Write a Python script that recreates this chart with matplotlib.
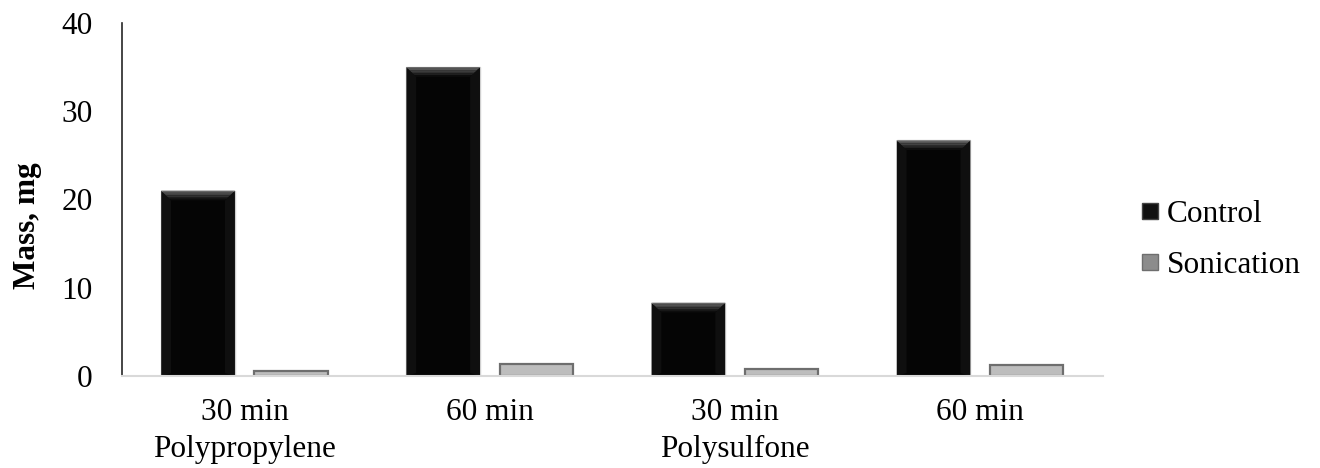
import matplotlib
matplotlib.use('Agg')
import numpy as np
import matplotlib.pyplot as plt
from matplotlib.patches import Polygon
from matplotlib.lines import Line2D

# data
categories = ['30 min\nPolypropylene', '60 min', '30 min\nPolysulfone', '60 min']
control = [21.0, 35.0, 8.3, 26.7]
sonication = [0.6, 1.4, 0.8, 1.3]
series_names = ['Control', 'Sonication']

plt.rcParams['font.family'] = ['Liberation Serif', 'DejaVu Serif']
fs = 22.5

fig = plt.figure(figsize=(13.2, 4.68), dpi=100)
ax = fig.add_axes([0.0924, 0.1966, 0.743, 0.7544])

x = np.arange(len(categories))
w = 0.30
off = 0.19

bars_c = ax.bar(x - off, control, w, color='#050505', edgecolor='#cfcfcf', linewidth=1.0, zorder=2)
bars_s = ax.bar(x + off, sonication, w, color='#bdbdbd', edgecolor='#6e6e6e', linewidth=1.6, zorder=2)


# bevel on top of the black bars: a few stacked strips going from grey to black
def add_bevel(bar, dx=0.04, dy=1.1, steps=6):
    x0 = bar.get_x()
    x1 = x0 + bar.get_width()
    top = bar.get_height()
    dy = min(dy, top / 2)
    shades = np.linspace(0.40, 0.05, steps)
    for k in range(steps):
        f0 = k / steps
        f1 = (k + 1) / steps
        pts = [
            (x0 + dx * f0, top - dy * f0),
            (x1 - dx * f0, top - dy * f0),
            (x1 - dx * f1, top - dy * f1),
            (x0 + dx * f1, top - dy * f1),
        ]
        g = shades[k]
        ax.add_patch(Polygon(pts, closed=True, facecolor=(g, g, g), edgecolor='none', zorder=3))
    # slightly lighter side faces
    for xa, xb in ((x0, x0 + dx), (x1, x1 - dx)):
        pts = [(xa, top), (xb, top - dy), (xb, dy * 0.3), (xa, 0)]
        ax.add_patch(Polygon(pts, closed=True, facecolor='#0f0f0f', edgecolor='none', zorder=2.5))


for b in bars_c:
    add_bevel(b)

ax.set_xlim(-0.5, len(categories) - 0.5)
ax.set_ylim(0, 40)
ax.set_yticks([0, 10, 20, 30, 40])
ax.set_xticks(x)
ax.set_xticklabels(categories, fontsize=fs, linespacing=1.35)
ax.tick_params(axis='x', length=0, pad=16)
ax.tick_params(axis='y', length=0, pad=21, labelsize=fs)

for side in ['top', 'right']:
    ax.spines[side].set_visible(False)
ax.spines['left'].set_color('#262626')
ax.spines['left'].set_linewidth(1.2)
ax.spines['bottom'].set_color('#d9d9d9')
ax.spines['bottom'].set_linewidth(1.5)

ax.set_ylabel('Mass, mg', fontsize=fs, fontweight='bold')
ax.yaxis.set_label_coords(-0.082, 0.425)

handles = [
    Line2D([], [], linestyle='none', marker='s', markersize=11,
           markerfacecolor='#111111', markeredgecolor='#444444'),
    Line2D([], [], linestyle='none', marker='s', markersize=11,
           markerfacecolor='#8c8c8c', markeredgecolor='#6e6e6e'),
]
fig.legend(handles, series_names, loc='center left', bbox_to_anchor=(0.838, 0.487),
           frameon=False, fontsize=fs, handletextpad=0.05, handlelength=1.0,
           labelspacing=0.7)

fig.savefig('out.png', dpi=100)
